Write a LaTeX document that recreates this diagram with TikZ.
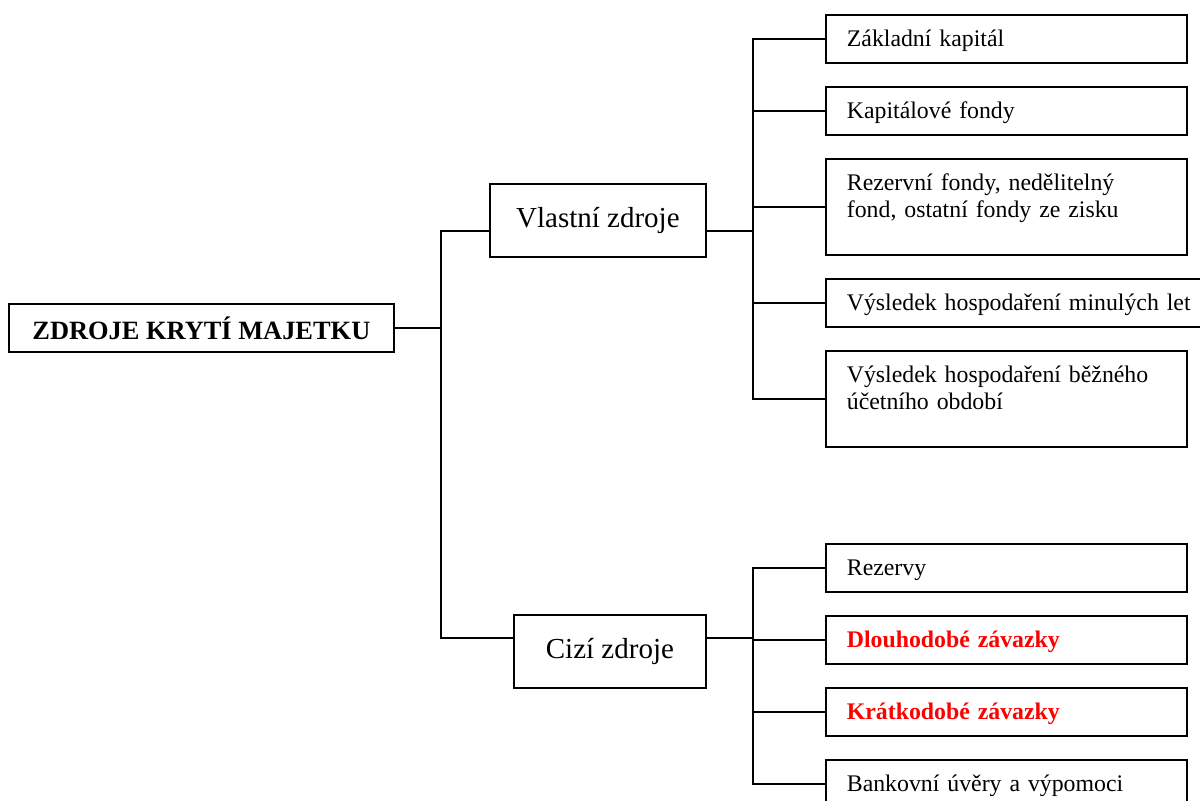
\documentclass[tikz,border=0pt]{standalone}
\usepackage{fontspec}
\setmainfont{Liberation Serif}
\usepackage{tikz}
\usetikzlibrary{positioning, calc}
\tikzset{
	box/.style={draw, line width=0.9pt},
	rootbox/.style={box, anchor=north west, minimum width=192.5pt, minimum height=24pt, font=\fontsize{13.2}{15}\selectfont\bfseries},
	group/.style={box, anchor=north west, minimum height=36.5pt, font=\fontsize{14.5}{17}\selectfont},
	leaf/.style={box, anchor=north west, inner xsep=10.5pt, text width=159.5pt, align=left, minimum height=24pt, text height=9.5pt, text depth=1.5pt, font=\fontsize{11.9}{13.5}\selectfont},
	tallleaf/.style={leaf, minimum height=48pt, text depth=25.5pt},
	hot/.style={text=red, font=\fontsize{11.9}{13.5}\selectfont\bfseries},
}

\begin{document}
\begin{tikzpicture}[x=0.5pt, y=-0.5pt, line width=0.9pt, node distance=11.1pt]
			\useasboundingbox (0,0) rectangle (1200,800);
			\node[rootbox] (ZDROJE) at (8,303) {ZDROJE KRYTÍ MAJETKU};
			\node[group, minimum width=108pt] (VLASTNI) at (489,183) {Vlastní zdroje};
			\node[group, minimum width=96pt] (CIZI) at (513,614) {Cizí zdroje};
			
			% vlastni zdroje
			\node[leaf] (v0) at (825,14) {Základní kapitál};
			\node[leaf, below=of v0.south west, anchor=north west] (v1) {Kapitálové fondy};
			\node[tallleaf, below=of v1.south west, anchor=north west] (v2) {Rezervní fondy, nedělitelný\\fond, ostatní fondy ze zisku};
			\node[leaf, text width=178pt, below=of v2.south west, anchor=north west] (v3) {Výsledek hospodaření minulých let};
			\node[tallleaf, below=of v3.south west, anchor=north west] (v4) {Výsledek hospodaření běžného\\účetního období};
			
			% cizi zdroje
			\node[leaf] (c0) at (825,543) {Rezervy};
			\node[leaf, hot, below=of c0.south west, anchor=north west] (c1) {Dlouhodobé závazky};
			\node[leaf, hot, below=of c1.south west, anchor=north west] (c2) {Krátkodobé závazky};
			\node[leaf, below=of c2.south west, anchor=north west] (c3) {Bankovní úvěry a výpomoci};
			
			\coordinate (jV) at (441,231);
			\coordinate (jC) at (441,638);
			\coordinate (bV) at (753,231);
			\coordinate (bC) at (753,638);
			
			\draw (ZDROJE.east) -- (ZDROJE.east -| jV);
			\draw (jV -| VLASTNI.west) -- (jV) -- (jC) -- (jC -| CIZI.west);
			\draw (VLASTNI.east |- bV) -- (bV);
			\draw (CIZI.east |- bC) -- (bC);
			\draw (v0.west) -- (bV |- v0.west) -- (bV |- v4.west) -- (v4.west);
			\draw (c0.west) -- (bC |- c0.west) -- (bC |- c3.west) -- (c3.west);
			\foreach \n in {v1, v2, v3}
				\draw (bV |- \n.west) -- (\n.west);
			\foreach \n in {c1, c2}
				\draw (bC |- \n.west) -- (\n.west);
		\end{tikzpicture}
\end{document}
